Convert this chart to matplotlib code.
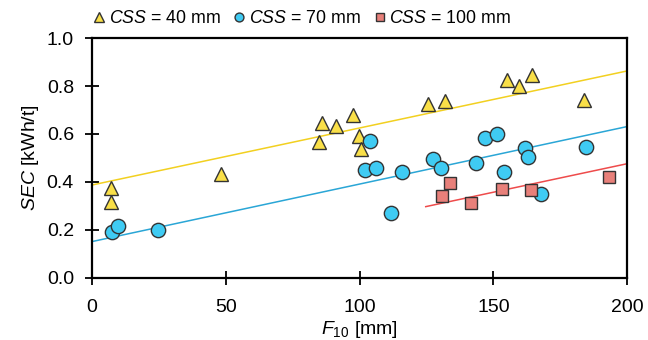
import matplotlib
matplotlib.use("Agg")
import matplotlib.pyplot as plt
import numpy as np

plt.rcParams['font.family'] = ['Liberation Sans', 'DejaVu Sans']
plt.rcParams['mathtext.fontset'] = 'custom'
plt.rcParams['mathtext.rm'] = 'Liberation Sans'
plt.rcParams['mathtext.it'] = 'Liberation Sans:italic'

# CSS = 40 mm
f10_40 = [7.1, 7.1, 48.1, 84.9, 86.0, 91.2, 97.6, 99.8, 100.4, 125.6, 132.0, 155.0, 159.6, 164.5, 184.0]
sec_40 = [0.376, 0.315, 0.432, 0.567, 0.644, 0.633, 0.680, 0.590, 0.537, 0.723, 0.736, 0.827, 0.800, 0.846, 0.740]

# CSS = 70 mm
f10_70 = [7.6, 9.7, 24.8, 102.0, 103.9, 106.2, 111.7, 115.9, 127.4, 130.3, 143.4, 146.9, 151.5,
          154.1, 161.9, 162.9, 167.7, 184.6]
sec_70 = [0.189, 0.218, 0.200, 0.450, 0.572, 0.457, 0.270, 0.442, 0.496, 0.457, 0.480, 0.585, 0.600,
          0.442, 0.540, 0.504, 0.351, 0.547]

# CSS = 100 mm
f10_100 = [130.7, 133.7, 141.7, 153.1, 164.1, 193.0]
sec_100 = [0.342, 0.394, 0.314, 0.371, 0.367, 0.420]

# trend lines: intercept, slope, x range
trend_40 = (0.387, 0.00238, 0, 200)
trend_70 = (0.151, 0.00240, 0, 200)
trend_100 = (0.000, 0.00238, 124.7, 200)
trend_100 = (0.476 - 0.00238 * 200, 0.00238, 124.7, 200)

fs = 14

fig, ax = plt.subplots(figsize=(6.48, 3.40), dpi=100)
fig.subplots_adjust(left=0.142, right=0.968, top=0.888, bottom=0.183)

def trend(t, color):
    a, b, x0, x1 = t
    xs = np.array([x0, x1])
    ax.plot(xs, a + b * xs, color=color, lw=1.1, zorder=2)

trend(trend_40, '#F2D020')
trend(trend_70, '#2AA6D6')
trend(trend_100, '#EE4B4B')

ax.plot(f10_40, sec_40, ls='none', marker='^', ms=10.5, mfc='#F9DF48', mec='#333333', mew=1.0,
        label=r'$\it{CSS}$ = 40 mm', zorder=3)
ax.plot(f10_70, sec_70, ls='none', marker='o', ms=10.3, mfc='#3FCBF3', mec='#333333', mew=1.0,
        label=r'$\it{CSS}$ = 70 mm', zorder=3)
ax.plot(f10_100, sec_100, ls='none', marker='s', ms=9.0, mfc='#E8807A', mec='#333333', mew=1.0,
        label=r'$\it{CSS}$ = 100 mm', zorder=3)

ax.set_xlim(0, 200)
ax.set_ylim(0, 1.0)
ax.set_xticks([0, 50, 100, 150, 200])
ax.set_yticks(np.arange(0, 1.01, 0.2))
ax.yaxis.set_major_formatter(matplotlib.ticker.FormatStrFormatter('%.1f'))
ax.tick_params(direction='inout', length=10, width=1.3, labelsize=fs, pad=8, color='black')
ax.tick_params(axis='x', pad=10)
for s in ax.spines.values():
    s.set_linewidth(1.6)

ax.set_xlabel(r'$\it{F}_{\it{10}}$ [mm]', fontsize=fs, labelpad=2.5)
ax.set_ylabel(r'$\it{SEC}$ [kWh/t]', fontsize=fs, labelpad=4)

ax.legend(loc='lower left', bbox_to_anchor=(-0.01, 1.03), ncol=3, frameon=False, fontsize=12.8,
          handletextpad=0.05, columnspacing=0.55, handlelength=1.0, markerscale=0.62, borderaxespad=0.1,
          borderpad=0.1)

fig.savefig('out.png', dpi=100)
